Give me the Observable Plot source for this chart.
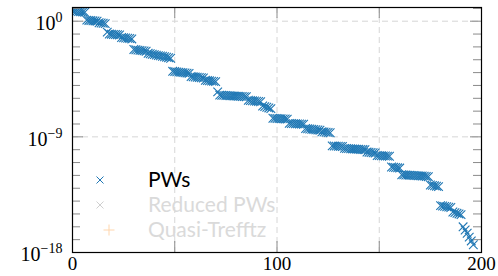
<!DOCTYPE html>
<html><head><meta charset="utf-8">
<script src="https://cdn.jsdelivr.net/npm/d3@7"></script>
<script src="https://cdn.jsdelivr.net/npm/@observablehq/plot@0.6"></script>
<style>
body{margin:0;background:#fff;}
#wrap{position:relative;width:498px;height:276px;}
#legend{position:absolute;left:0;top:0;pointer-events:none;}
</style></head><body><div id="wrap"></div>
<script>
// log10 of the plotted values (PWs series)
const log10Values = [
  0.80,0.78,0.77,0.75,0.74,0.72,0.70,
  0.08,0.06,0.05,0.03,0.02,0.00,-0.12,-0.14,-0.16,-0.19,
  -0.85,-1.00,-1.01,-1.03,-1.04,-1.05,-1.07,-1.27,-1.29,-1.31,-1.33,-1.35,-1.38,
  -2.20,-2.22,-2.25,-2.27,-2.29,-2.31,-2.34,-2.50,-2.53,-2.57,-2.60,-2.64,-2.68,-2.70,-2.73,-2.77,-2.80,-2.84,-2.88,
  -3.90,-3.92,-3.94,-3.96,-3.98,-4.00,-4.02,-4.04,-4.06,-4.30,-4.32,-4.34,-4.36,-4.38,-4.40,-4.42,-4.60,-4.62,-4.64,-4.66,-4.68,-4.70,
  -5.50,-5.75,-5.76,-5.77,-5.78,-5.79,-5.80,-5.81,-5.82,-5.83,-5.84,-5.85,-5.86,-5.87,-5.88,-6.15,-6.17,-6.19,-6.21,-6.23,-6.25,-6.27,-6.60,-6.65,-6.70,-6.75,-6.80,
  -7.55,-7.56,-7.57,-7.58,-7.59,-7.60,-7.61,-7.62,-7.95,-7.96,-7.97,-7.98,-7.99,-8.00,-8.01,-8.02,-8.35,-8.37,-8.39,-8.41,-8.43,-8.45,-8.47,-8.49,-8.60,-8.62,-8.64,-8.66,-8.68,
  -9.70,-9.71,-9.72,-9.73,-9.74,-9.75,-9.90,-9.91,-9.92,-9.93,-9.94,-9.95,-9.96,-9.97,-9.98,-9.99,-10.00,-10.18,-10.20,-10.22,-10.24,-10.26,-10.45,-10.46,-10.47,-10.48,-10.49,-10.50,-10.51,
  -11.35,-11.37,-11.39,-11.41,-11.43,-11.95,-11.96,-11.97,-11.98,-11.99,-12.00,-12.01,-12.02,-12.03,-12.04,-12.05,-12.06,-12.08,-12.10,-12.75,-12.78,-12.81,-12.84,-12.87,
  -14.35,-14.38,-14.41,-14.44,-14.47,-14.50,-14.85,-14.90,-14.95,-15.00,-15.05,
  -16.00,-16.25,-16.50,-16.80,-17.10,-17.40
];
const xDomain = [0, 200];
const yDomain = [1e-18, 10 ** 1.066];
const xTicks = [0, 50, 100, 150, 200];
const xTickLabels = [0, 100, 200];
const xGrid = [50, 100, 150];
const yMajorTicks = [1e0, 1e-9, 1e-18];
const yGrid = [1e0, 1e-9];
const yMinorExponents = [1,-1,-2,-3,-4,-5,-6,-7,-8,-10,-11,-12,-13,-14,-15,-16,-17];
const legendLabels = ["PWs", "Reduced PWs", "Quasi-Trefftz"];
const legendColors = ["#1f77b4", "#cfcfcf", "#ffd6ad"];
const legendTextColors = ["#000000", "#dadada", "#dadada"];
const legendSymbols = ["times", "times", "plus"];

const data = log10Values.map((e, i) => ({x: i, y: 10 ** e}));
const yMinor = yMinorExponents.map(k => 10 ** k);

const W = 498, H = 276, mL = 72, mR = 17, mT = 7, mB = 24;
const fw = W - mL - mR, fh = H - mT - mB;
const tickCol = "#8a8a8a";

const chart = Plot.plot({
  width: W, height: H,
  marginLeft: mL, marginRight: mR, marginTop: mT, marginBottom: mB,
  style: {fontFamily: "'Liberation Serif', serif", fontSize: "20px", background: "white", overflow: "visible"},
  x: {domain: xDomain, label: null},
  y: {type: "log", domain: yDomain, label: null},
  marks: [
    Plot.gridX(xGrid, {stroke: "#d6d6d6", strokeOpacity: 1, strokeDasharray: "6,4"}),
    Plot.gridY(yGrid, {stroke: "#d6d6d6", strokeOpacity: 1, strokeDasharray: "6,4"}),
    Plot.dot(data, {x: "x", y: "y", symbol: "times", r: 4, stroke: "#1f77b4", strokeWidth: 1.1, clip: true}),
    Plot.tickX(xTicks, {x: d => d, insetTop: fh - 11, stroke: tickCol}),
    Plot.tickX(xTicks, {x: d => d, insetBottom: fh - 11, stroke: tickCol}),
    Plot.tickY(yMajorTicks, {y: d => d, insetRight: fw - 11, stroke: tickCol}),
    Plot.tickY(yMajorTicks, {y: d => d, insetLeft: fw - 11, stroke: tickCol}),
    Plot.tickY(yMinor, {y: d => d, insetRight: fw - 8, stroke: tickCol}),
    Plot.tickY(yMinor, {y: d => d, insetLeft: fw - 8, stroke: tickCol}),
    Plot.frame({stroke: "black", strokeWidth: 1.2}),
    Plot.axisX(xTickLabels, {tickSize: 0, tickPadding: 4, fontSize: 19, tickFormat: d => String(d), label: null}),
    Plot.axisY(yMajorTicks, {tickSize: 0, tickPadding: 10, dy: 2.5, label: null,
      tickFormat: d => "10^" + String(Math.round(Math.log10(d))).replace("-", "\u2212")})
  ]
});

const ns = "http://www.w3.org/2000/svg";
chart.querySelectorAll('g[aria-label="y-axis tick label"] text').forEach(t => {
  const [b, e] = t.textContent.split("^");
  t.textContent = "";
  const t1 = document.createElementNS(ns, "tspan"); t1.textContent = b;
  const t2 = document.createElementNS(ns, "tspan"); t2.textContent = e;
  t2.setAttribute("font-size", "14"); t2.setAttribute("dy", "-8");
  t.append(t1, t2);
});

const wrap = document.getElementById("wrap");
wrap.appendChild(chart);

// legend overlay (inside the plot, bottom-left)
const leg = document.createElementNS(ns, "svg");
leg.setAttribute("id", "legend");
leg.setAttribute("width", W); leg.setAttribute("height", H);
legendLabels.forEach((lab, i) => {
  const cy = 180 + 25 * i;
  const p = document.createElementNS(ns, "path");
  if (legendSymbols[i] === "times") {
    p.setAttribute("d", `M96.5,${cy-3.5}L103.5,${cy+3.5}M96.5,${cy+3.5}L103.5,${cy-3.5}`);
  } else {
    p.setAttribute("d", `M103.5,${cy}H114.5M109,${cy-5.5}V${cy+5.5}`);
  }
  p.setAttribute("stroke", legendColors[i]); p.setAttribute("fill", "none"); p.setAttribute("stroke-width", "1");
  leg.appendChild(p);
  const t = document.createElementNS(ns, "text");
  t.setAttribute("x", 148); t.setAttribute("y", cy + 7);
  t.setAttribute("font-family", "Lato, sans-serif");
  t.setAttribute("font-size", "21");
  t.setAttribute("fill", legendTextColors[i]);
  t.textContent = lab;
  leg.appendChild(t);
});
wrap.appendChild(leg);
</script></body></html>
